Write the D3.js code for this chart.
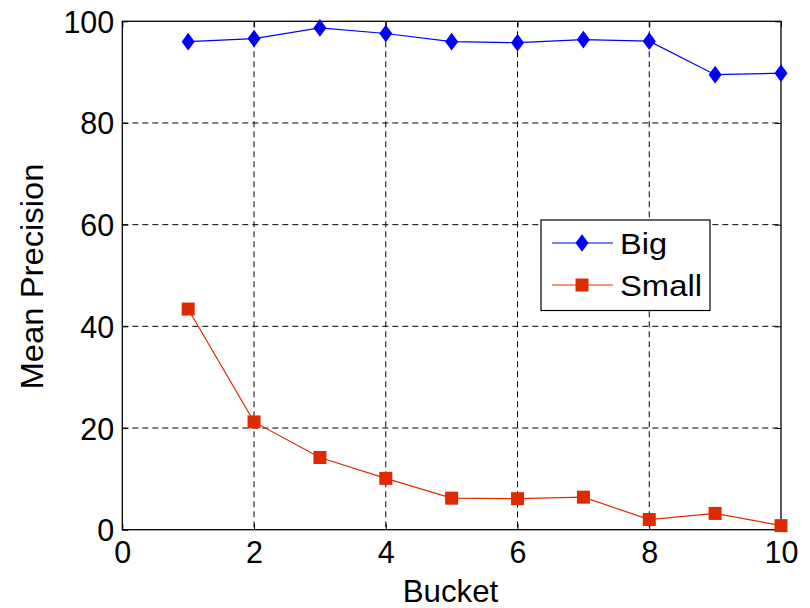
<!DOCTYPE html>
<html><head><meta charset="utf-8">
<script src="https://cdn.jsdelivr.net/npm/d3@7"></script>
<style>body{margin:0;background:#fff;} text{font-family:"Liberation Sans",Arial,sans-serif;}</style>
</head><body>
<svg id="c" width="810" height="608"></svg>
<script>
const buckets = [1,2,3,4,5,6,7,8,9,10];
const bigValues = [96.0,96.6,98.7,97.6,96.0,95.8,96.4,96.1,89.5,89.8];
const smallValues = [43.4,21.2,14.2,10.1,6.2,6.1,6.4,2.0,3.2,0.8];
const xTicks = [0,2,4,6,8,10];
const yTicks = [0,20,40,60,80,100];
const seriesNames = ["Big","Small"];
const colors = {Big:"#0000ff", Small:"#dd2a00"};

const svg = d3.select("#c");
const L=122.3, R=781, T=21.3, B=529.7;
const x = d3.scaleLinear().domain([0,10]).range([L,R]);
const y = d3.scaleLinear().domain([0,100]).range([B,T]);

// grid
const g = svg.append("g");
g.selectAll(".gx").data(xTicks.filter(d=>d>0&&d<10)).enter().append("line")
  .attr("x1",d=>x(d)).attr("x2",d=>x(d)).attr("y1",T).attr("y2",B)
  .attr("stroke","#000").attr("stroke-width",1).attr("stroke-dasharray","6,4");
g.selectAll(".gy").data(yTicks.filter(d=>d>0&&d<100)).enter().append("line")
  .attr("y1",d=>y(d)).attr("y2",d=>y(d)).attr("x1",L).attr("x2",R)
  .attr("stroke","#000").attr("stroke-width",1).attr("stroke-dasharray","6,4");

// axes
const xa = svg.append("g").attr("transform",`translate(0,${B})`)
  .call(d3.axisBottom(x).tickValues(xTicks).tickSizeInner(-6).tickSizeOuter(0).tickPadding(12));
const xt = svg.append("g").attr("transform",`translate(0,${T})`)
  .call(d3.axisTop(x).tickValues(xTicks).tickSizeInner(-6).tickSizeOuter(0).tickFormat(""));
const ya = svg.append("g").attr("transform",`translate(${L},0)`)
  .call(d3.axisLeft(y).tickValues(yTicks).tickSizeInner(-6).tickSizeOuter(0).tickPadding(8));
const yr = svg.append("g").attr("transform",`translate(${R},0)`)
  .call(d3.axisRight(y).tickValues(yTicks).tickSizeInner(-6).tickSizeOuter(0).tickFormat(""));
[xa,xt,ya,yr].forEach(a=>{
  a.select(".domain").remove();
  a.selectAll("line").attr("stroke","#000");
  a.selectAll("text").attr("font-size",30.5).attr("fill","#000").style("font-family","'Liberation Sans',Arial,sans-serif");
});
ya.selectAll("text").attr("dy","0.36em");
svg.append("rect").attr("x",L).attr("y",T).attr("width",R-L).attr("height",B-T)
  .attr("fill","none").attr("stroke","#000").attr("stroke-width",1.3);

// lines
const line = d3.line().x((d,i)=>x(buckets[i])).y(d=>y(d));
svg.append("path").datum(bigValues).attr("d",line).attr("fill","none").attr("stroke",colors.Big).attr("stroke-width",1.2);
svg.append("path").datum(smallValues).attr("d",line).attr("fill","none").attr("stroke",colors.Small).attr("stroke-width",1.2);
const diamond = d3.symbol().type(d3.symbolDiamond2).size(150);
svg.selectAll(".bm").data(bigValues).enter().append("path")
  .attr("d",diamond).attr("transform",(d,i)=>`translate(${x(buckets[i])},${y(d)}) scale(0.85,1.15)`)
  .attr("fill",colors.Big);
svg.selectAll(".sm").data(smallValues).enter().append("rect")
  .attr("x",(d,i)=>x(buckets[i])-6.5).attr("y",d=>y(d)-6.5).attr("width",13).attr("height",13)
  .attr("fill",colors.Small);

// axis labels
svg.append("text").attr("x",450.5).attr("y",601.5).attr("text-anchor","middle").attr("font-size",30.5)
  .attr("textLength",95.5).attr("lengthAdjust","spacingAndGlyphs").text("Bucket");
svg.append("text").attr("transform","translate(43,276.5) rotate(-90)").attr("text-anchor","middle").attr("font-size",30.5)
  .attr("textLength",226).attr("lengthAdjust","spacingAndGlyphs").text("Mean Precision");

// legend
const legendTextLen = {Big:47, Small:82};
const lg = svg.append("g");
lg.append("rect").attr("x",541).attr("y",220).attr("width",169).attr("height",90.5).attr("fill","#fff").attr("stroke","#000").attr("stroke-width",1.2);
seriesNames.forEach((n,i)=>{
  const yy = 243 + i*42;
  lg.append("line").attr("x1",552).attr("x2",613).attr("y1",yy).attr("y2",yy).attr("stroke",colors[n]).attr("stroke-width",1.2);
  if(n==="Big") lg.append("path").attr("d",diamond).attr("transform",`translate(582,${yy}) scale(0.85,1.15)`).attr("fill",colors[n]);
  else lg.append("rect").attr("x",582-6.5).attr("y",yy-6.5).attr("width",13).attr("height",13).attr("fill",colors[n]);
  lg.append("text").attr("x",620).attr("y",yy).attr("dy","0.36em").attr("font-size",29.5)
    .attr("textLength",legendTextLen[n]).attr("lengthAdjust","spacingAndGlyphs").text(n);
});
</script>
</body></html>
